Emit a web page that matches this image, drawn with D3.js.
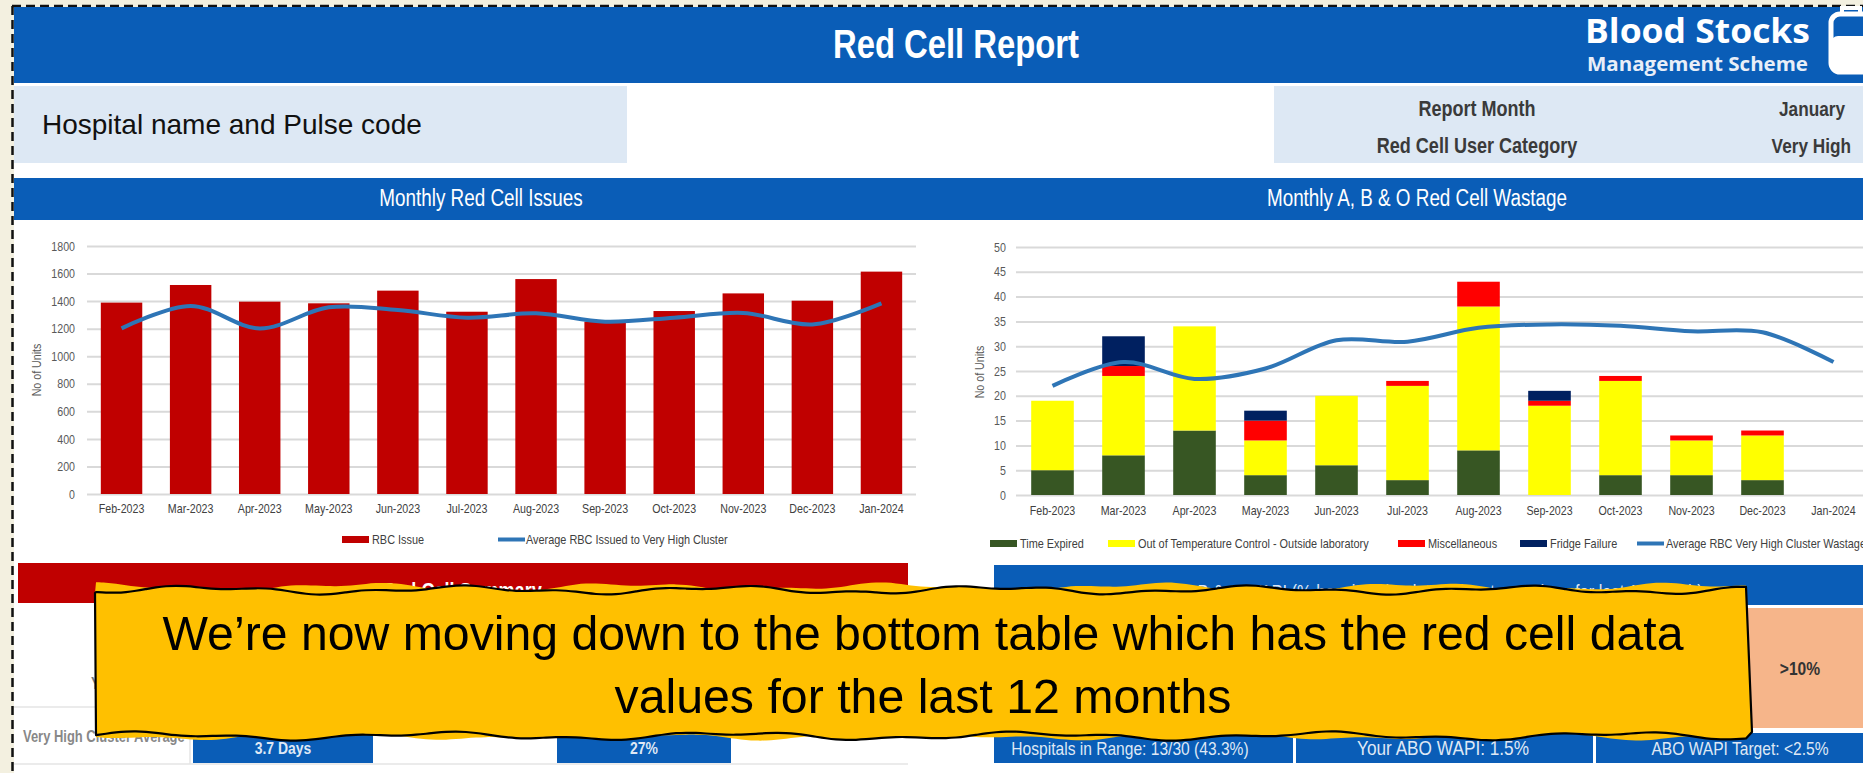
<!DOCTYPE html>
<html>
<head>
<meta charset="utf-8">
<title>Red Cell Report</title>
<style>
  html, body { margin: 0; padding: 0; background: #f3f0e0; }
  svg { display: block; }
  .narrow { font-family: 'Liberation Sans', Arial, sans-serif; }
  .grid line { stroke: #d9d9d9; stroke-width: 2; }
  .grid text { fill: #595959; font-size: 13px; }
  .xax text { fill: #404040; font-size: 13px; }
</style>
</head>
<body>
<svg width="1863" height="773"></svg>
<script src="https://d3js.org/d3.v7.min.js"></script>
<script>
const months = ["Feb-2023", "Mar-2023", "Apr-2023", "May-2023", "Jun-2023", "Jul-2023",
                "Aug-2023", "Sep-2023", "Oct-2023", "Nov-2023", "Dec-2023", "Jan-2024"];

const rbcIssue = [1389, 1517, 1396, 1384, 1476, 1323, 1560, 1251, 1328, 1456, 1403, 1614];
const avgIssuedCluster = [1202, 1365, 1202, 1355, 1335, 1280, 1311, 1251, 1280, 1314, 1231, 1384];
const issueTicks = [0, 200, 400, 600, 800, 1000, 1200, 1400, 1600, 1800];

const timeExpired      = [5, 8, 13, 4, 6, 3, 9, 0, 4, 4, 3, 0];
const outOfTempControl = [14, 16, 21, 7, 14, 19, 29, 18, 19, 7, 9, 0];
const miscellaneous    = [0, 2, 0, 4, 0, 1, 5, 1, 1, 1, 1, 0];
const fridgeFailure    = [0, 6, 0, 2, 0, 0, 0, 2, 0, 0, 0, 0];
const avgWastageCluster = [22, 26.8, 23.4, 25.5, 31.2, 30.9, 33.7, 34.4, 34.1, 33, 32.8, 26.8];
const wastageTicks = [0, 5, 10, 15, 20, 25, 30, 35, 40, 45, 50];

const wastageKeys = ["Time Expired", "Out of Temperature Control - Outside laboratory", "Miscellaneous", "Fridge Failure"];
const wastageColors = ["#375623", "#ffff00", "#ff0000", "#002060"];

const summaryCells = ["Hospitals in Range: 13/30 (43.3%)", "Your ABO WAPI: 1.5%", "ABO WAPI Target: <2.5%"];

const svg = d3.select("svg");
const blue = "#0a5db7";

// ---- page frame ----
svg.append("rect").attr("x", 14).attr("y", 7).attr("width", 1849).attr("height", 766).attr("fill", "#fff");
svg.append("line").attr("x1", 12).attr("x2", 1863).attr("y1", 6).attr("y2", 6)
  .attr("stroke", "#111").attr("stroke-width", 2.5).attr("stroke-dasharray", "9 5");
svg.append("line").attr("x1", 12.5).attr("x2", 12.5).attr("y1", 6).attr("y2", 773)
  .attr("stroke", "#111").attr("stroke-width", 2.5).attr("stroke-dasharray", "9 5");

// header
svg.append("rect").attr("x", 14).attr("y", 7).attr("width", 1849).attr("height", 76).attr("fill", blue);
svg.append("text").attr("class", "narrow").attr("x", 956).attr("y", 58).attr("text-anchor", "middle")
  .attr("fill", "#fff").attr("font-weight", "bold").attr("font-size", 40).text("Red Cell Report");
svg.append("text").attr("x", 1585).attr("y", 43).attr("fill", "#fff")
  .attr("font-family", "'Open Sans', sans-serif").attr("font-weight", "bold").attr("font-size", 34)
  .attr("textLength", 225).attr("lengthAdjust", "spacingAndGlyphs").text("Blood Stocks");
svg.append("text").attr("x", 1587).attr("y", 71).attr("fill", "#e8eef8")
  .attr("font-family", "'Open Sans', sans-serif").attr("font-weight", "bold").attr("font-size", 19)
  .attr("textLength", 221).attr("lengthAdjust", "spacingAndGlyphs").text("Management Scheme");
// logo bag
const bag = svg.append("g");
bag.append("rect").attr("x", 1831).attr("y", 14).attr("width", 40).attr("height", 58).attr("rx", 9)
  .attr("fill", blue).attr("stroke", "#fff").attr("stroke-width", 5);
bag.append("rect").attr("x", 1831).attr("y", 36).attr("width", 40).attr("height", 36).attr("rx", 7).attr("fill", "#fff");
bag.append("path").attr("d", "M1842,14 L1842,8 L1860,8 L1860,14").attr("fill", "none").attr("stroke", "#fff").attr("stroke-width", 4);

// info row
svg.append("rect").attr("x", 14).attr("y", 86).attr("width", 613).attr("height", 77).attr("fill", "#dde8f4");
svg.append("rect").attr("x", 1274).attr("y", 86).attr("width", 589).attr("height", 77).attr("fill", "#dde8f4");
svg.append("text").attr("x", 42).attr("y", 134).attr("font-family", "'Liberation Sans', Arial, sans-serif")
  .attr("font-size", 28).attr("fill", "#111").text("Hospital name and Pulse code");
const info = [["Report Month", "January", 116], ["Red Cell User Category", "Very High", 153]];
info.forEach(r => {
  svg.append("text").attr("class", "narrow").attr("x", 1477).attr("y", r[2]).attr("text-anchor", "middle")
    .attr("font-size", 22).attr("font-weight", "bold").attr("fill", "#3a3a3a").text(r[0]);
  svg.append("text").attr("class", "narrow").attr("x", r[1] === "January" ? 1845 : 1851).attr("y", r[2])
    .attr("text-anchor", "end").attr("font-size", 21).attr("font-weight", "bold").attr("fill", "#3a3a3a").text(r[1]);
});

// section band
svg.append("rect").attr("x", 14).attr("y", 178).attr("width", 1849).attr("height", 42).attr("fill", blue);
svg.append("text").attr("class", "narrow").attr("x", 481).attr("y", 206).attr("text-anchor", "middle")
  .attr("fill", "#fff").attr("font-size", 23).text("Monthly Red Cell Issues");
svg.append("text").attr("class", "narrow").attr("x", 1417).attr("y", 206).attr("text-anchor", "middle")
  .attr("fill", "#fff").attr("font-size", 23).text("Monthly A, B & O Red Cell Wastage");

// ---- chart 1: monthly red cell issues ----
const xI = d3.scaleBand().domain(months).range([87, 916]).paddingInner(0.4).paddingOuter(0.2);
const yI = d3.scaleLinear().domain([0, 1800]).range([494, 246]);

svg.append("g").attr("class", "grid narrow").attr("transform", "translate(87,0)")
  .call(d3.axisLeft(yI).tickValues(issueTicks).tickFormat(d3.format("d")).tickSize(-829).tickPadding(12))
  .call(g => g.select(".domain").remove());

svg.append("g").selectAll("rect").data(months).join("rect")
  .attr("x", d => xI(d)).attr("width", xI.bandwidth())
  .attr("y", (d, i) => yI(rbcIssue[i])).attr("height", (d, i) => yI(0) - yI(rbcIssue[i]))
  .attr("fill", "#c00000");

svg.append("path").datum(months)
  .attr("d", d3.line().x(d => xI(d) + xI.bandwidth() / 2).y((d, i) => yI(avgIssuedCluster[i]))
    .curve(d3.curveCatmullRom.alpha(0.5)))
  .attr("fill", "none").attr("stroke", "#2e75b6").attr("stroke-width", 4);

svg.append("g").attr("class", "xax narrow").attr("transform", "translate(0,494)")
  .call(d3.axisBottom(xI).tickSize(0).tickPadding(10))
  .call(g => g.select(".domain").remove());

svg.append("text").attr("class", "narrow").attr("transform", "translate(41,370) rotate(-90)")
  .attr("text-anchor", "middle").attr("font-size", 13).attr("fill", "#595959").text("No of Units");

const leg1 = svg.append("g").attr("class", "narrow").attr("font-size", 13.3).attr("fill", "#404040");
leg1.append("rect").attr("x", 342).attr("y", 536).attr("width", 27).attr("height", 7).attr("fill", "#c00000");
leg1.append("text").attr("x", 372).attr("y", 544).text("RBC Issue");
leg1.append("line").attr("x1", 498).attr("x2", 525).attr("y1", 539.5).attr("y2", 539.5)
  .attr("stroke", "#2e75b6").attr("stroke-width", 4);
leg1.append("text").attr("x", 526).attr("y", 544).text("Average RBC Issued to Very High Cluster");

// ---- chart 2: monthly A, B & O wastage ----
const xW = d3.scaleBand().domain(months).range([1017, 1869]).paddingInner(0.4).paddingOuter(0.2);
const yW = d3.scaleLinear().domain([0, 50]).range([495, 247]);

svg.append("g").attr("class", "grid narrow").attr("transform", "translate(1016,0)")
  .call(d3.axisLeft(yW).tickValues(wastageTicks).tickSize(-850).tickPadding(10))
  .call(g => g.select(".domain").remove());

const rows = months.map((m, i) => ({
  month: m,
  [wastageKeys[0]]: timeExpired[i],
  [wastageKeys[1]]: outOfTempControl[i],
  [wastageKeys[2]]: miscellaneous[i],
  [wastageKeys[3]]: fridgeFailure[i]
}));
const stacked = d3.stack().keys(wastageKeys)(rows);

svg.append("g").selectAll("g").data(stacked).join("g")
  .attr("fill", (d, i) => wastageColors[i])
  .selectAll("rect").data(d => d).join("rect")
  .attr("x", d => xW(d.data.month)).attr("width", xW.bandwidth())
  .attr("y", d => yW(d[1])).attr("height", d => yW(d[0]) - yW(d[1]));

svg.append("path").datum(months)
  .attr("d", d3.line().x(d => xW(d) + xW.bandwidth() / 2).y((d, i) => yW(avgWastageCluster[i]))
    .curve(d3.curveCatmullRom.alpha(0.5)))
  .attr("fill", "none").attr("stroke", "#2e75b6").attr("stroke-width", 4);

svg.append("g").attr("class", "xax narrow").attr("transform", "translate(0,495)")
  .call(d3.axisBottom(xW).tickSize(0).tickPadding(11))
  .call(g => g.select(".domain").remove());

svg.append("text").attr("class", "narrow").attr("transform", "translate(984,372) rotate(-90)")
  .attr("text-anchor", "middle").attr("font-size", 13).attr("fill", "#595959").text("No of Units");

const leg2 = svg.append("g").attr("class", "narrow").attr("font-size", 13.3).attr("fill", "#404040");
const legX = [990, 1108, 1398, 1520];
wastageKeys.forEach((k, i) => {
  leg2.append("rect").attr("x", legX[i]).attr("y", 540).attr("width", 27).attr("height", 7).attr("fill", wastageColors[i]);
  leg2.append("text").attr("x", legX[i] + 30).attr("y", 548).text(k);
});
leg2.append("line").attr("x1", 1637).attr("x2", 1664).attr("y1", 543.5).attr("y2", 543.5)
  .attr("stroke", "#2e75b6").attr("stroke-width", 4);
leg2.append("text").attr("x", 1666).attr("y", 548).text("Average RBC Very High Cluster Wastage");

// ---- bottom tables (mostly covered) ----
svg.append("rect").attr("x", 18).attr("y", 563).attr("width", 890).attr("height", 40).attr("fill", "#c00000");
svg.append("text").attr("class", "narrow").attr("x", 462).attr("y", 598).attr("text-anchor", "middle")
  .attr("fill", "#fff").attr("font-weight", "bold").attr("font-size", 22).text("Red Cell Summary");
svg.append("line").attr("x1", 14).attr("x2", 908).attr("y1", 707).attr("y2", 707).attr("stroke", "#e4e4e4").attr("stroke-width", 1.5);
svg.append("line").attr("x1", 14).attr("x2", 908).attr("y1", 764).attr("y2", 764).attr("stroke", "#e4e4e4").attr("stroke-width", 1.5);
svg.append("line").attr("x1", 190).attr("x2", 190).attr("y1", 707).attr("y2", 764).attr("stroke", "#e4e4e4").attr("stroke-width", 1.5);
svg.append("text").attr("class", "narrow").attr("x", 91).attr("y", 689).attr("font-size", 16).attr("font-weight", "bold")
  .attr("fill", "#777").text("Your Hospital");
svg.append("text").attr("class", "narrow").attr("x", 23).attr("y", 742).attr("font-size", 15.8).attr("font-weight", "bold")
  .attr("fill", "#888").text("Very High Cluster Average");
[[193, 180, "3.7 Days"], [557, 174, "27%"]].forEach(b => {
  svg.append("rect").attr("x", b[0]).attr("y", 733).attr("width", b[1]).attr("height", 30).attr("fill", blue);
  svg.append("text").attr("class", "narrow").attr("x", b[0] + b[1] / 2).attr("y", 754).attr("text-anchor", "middle")
    .attr("fill", "#dfe8f5").attr("font-weight", "bold").attr("font-size", 17).text(b[2]);
});

svg.append("rect").attr("x", 994).attr("y", 565).attr("width", 869).attr("height", 40).attr("fill", blue);
svg.append("text").attr("class", "narrow").attr("x", 1440).attr("y", 599).attr("text-anchor", "middle")
  .attr("fill", "#dfe8f5").attr("font-size", 20).text("A, B & O WAPI (% hospital site data refers to previous for last 12 Month)");
svg.append("rect").attr("x", 1700).attr("y", 608).attr("width", 163).attr("height", 120).attr("fill", "#f6b58a");
svg.append("text").attr("class", "narrow").attr("x", 1800).attr("y", 675).attr("text-anchor", "middle")
  .attr("fill", "#333").attr("font-weight", "bold").attr("font-size", 19).text(">10%");
const cellX = [994, 1296, 1596, 1863];
const cellTextX = [1130, 1443, 1740];
summaryCells.forEach((t, i) => {
  svg.append("rect").attr("x", cellX[i]).attr("y", 733).attr("width", cellX[i + 1] - cellX[i] - (i < 2 ? 3 : 0))
    .attr("height", 30).attr("fill", blue);
  svg.append("text").attr("class", "narrow").attr("x", cellTextX[i]).attr("y", 755)
    .attr("text-anchor", "middle").attr("fill", "#dfe8f5").attr("font-size", i === 1 ? 21 : 19).text(t);
});

// ---- callout ----
const L = 96, R = 1751, T = 590, B = 736;
function edge(x0, x1, y, a, f, p) {
  const pts = [];
  for (let x = x0; x <= x1; x += 10) {
    pts.push([x, y + a * Math.sin(x / f + p) + a * 0.6 * Math.sin(x / (f * 0.37) + 2 * p)]);
  }
  return pts;
}
function calloutPath(dy, p) {
  const top = edge(L, R, T + dy, 3, 42, p);
  const bot = edge(L, R, B, 3, 47, p + 1.7).reverse();
  const lineGen = d3.line().curve(d3.curveBasis);
  return lineGen(top) + "L" + (R + 1) + "," + (B - 4) + lineGen(bot).replace(/^M/, "L") + "L" + (L - 1) + "," + (T + 3) + "Z";
}
svg.append("path").attr("d", calloutPath(-3, 2.4)).attr("fill", "#ffc000");
svg.append("path").attr("d", calloutPath(0, 0)).attr("fill", "#ffc000")
  .attr("stroke", "#000").attr("stroke-width", 2.2).attr("stroke-linejoin", "round");
const cText = svg.append("g").attr("font-family", "'Liberation Sans', Arial, sans-serif")
  .attr("text-anchor", "middle").attr("font-size", 48).attr("fill", "#000");
cText.append("text").attr("x", 923).attr("y", 650).attr("textLength", 1521).attr("lengthAdjust", "spacingAndGlyphs")
  .text("We’re now moving down to the bottom table which has the red cell data");
cText.append("text").attr("x", 923).attr("y", 713).attr("textLength", 617).attr("lengthAdjust", "spacingAndGlyphs")
  .text("values for the last 12 months");

// condense the report's narrow-face texts (Arial Narrow is about 82% of Arial's width)
svg.selectAll("text").each(function () {
  if (!this.closest(".narrow") || this.getAttribute("textLength")) return;
  const w = this.getComputedTextLength();
  this.setAttribute("textLength", (w * 0.82).toFixed(1));
  this.setAttribute("lengthAdjust", "spacingAndGlyphs");
});
</script>
</body>
</html>
